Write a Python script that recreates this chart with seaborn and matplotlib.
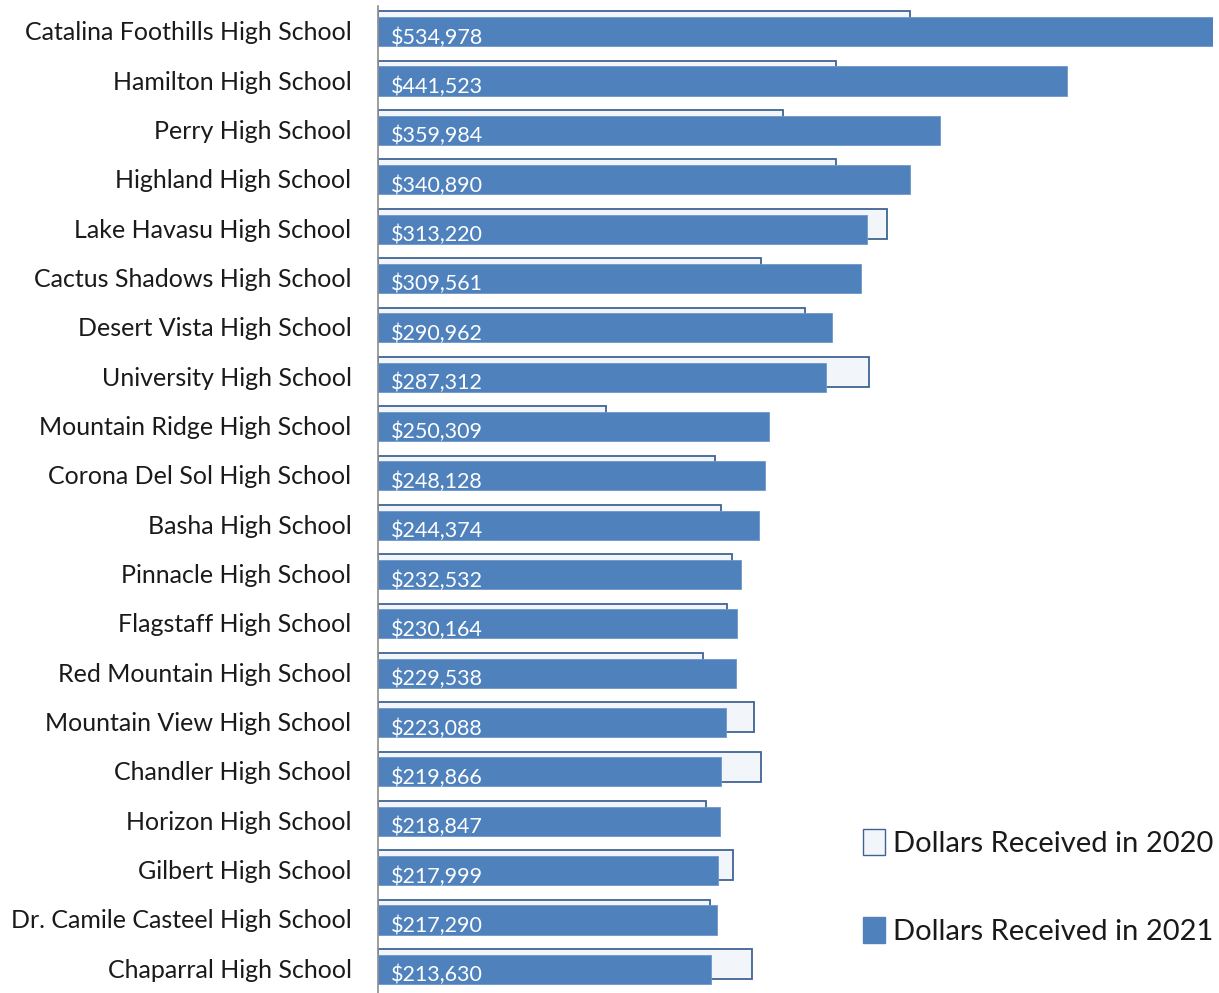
import matplotlib
matplotlib.use('Agg')
import matplotlib.pyplot as plt
import seaborn as sns
import pandas as pd
from matplotlib.patches import Patch

schools = ['Catalina Foothills High School', 'Hamilton High School', 'Perry High School',
           'Highland High School', 'Lake Havasu High School', 'Cactus Shadows High School',
           'Desert Vista High School', 'University High School', 'Mountain Ridge High School',
           'Corona Del Sol High School', 'Basha High School', 'Pinnacle High School',
           'Flagstaff High School', 'Red Mountain High School', 'Mountain View High School',
           'Chandler High School', 'Horizon High School', 'Gilbert High School',
           'Dr. Camile Casteel High School', 'Chaparral High School']
dollars_2021 = [534978, 441523, 359984, 340890, 313220, 309561, 290962, 287312, 250309,
                248128, 244374, 232532, 230164, 229538, 223088, 219866, 218847, 217999,
                217290, 213630]
# 2020 values
dollars_2020 = [340600, 293200, 259800, 293200, 325900, 245700, 273300, 314300, 146300,
                216200, 220000, 227100, 223900, 208500, 240600, 245700, 210400, 227700,
                213000, 239900]

df = pd.DataFrame({'school': schools, 'y2020': dollars_2020, 'y2021': dollars_2021})

sns.set_style('white')
plt.rcParams['font.family'] = ['Lato', 'DejaVu Sans']

blue = '#4F81BD'
light = '#F2F5FA'
edge = '#3F6494'

fig = plt.figure(figsize=(12.19, 9.93), dpi=100)
ax = fig.add_axes([378 / 1219, 0 / 993, (1213 - 378) / 1219, (987 - 0) / 993])

# 2020 bars (light, behind, shifted up a bit)
sns.barplot(data=df, x='y2020', y='school', orient='h', color=light, edgecolor=edge,
            linewidth=1.3, width=0.61, saturation=1, ax=ax)
n = len(schools)
for p in ax.patches[:n]:
    p.set_y(p.get_y() - 0.085)

sns.barplot(data=df, x='y2021', y='school', orient='h', color=blue, edgecolor='#6f97c8',
            linewidth=0.6, width=0.59, saturation=1, ax=ax)
for p in ax.patches[n:]:
    p.set_y(p.get_y() + 0.02)

for i, v in enumerate(dollars_2021):
    ax.text(8000, i + 0.14, f'${v:,}', color='white', fontsize=15.5,
            va='center', ha='left')

ax.set_xlim(0, 535000)
ax.set_ylim(n - 0.5, -0.5)
ax.set_xlabel('')
ax.set_ylabel('')
ax.set_xticks([])
ax.tick_params(axis='y', which='major', length=0, pad=19, labelsize=18, labelcolor='#1a1a1a')
ax.set_yticks([i - 0.5 for i in range(n + 1)], minor=True)
ax.tick_params(axis='y', which='minor', length=6, width=1.2, color='#8c8c8c', direction='out')
for s in ['top', 'right', 'bottom']:
    ax.spines[s].set_visible(False)
ax.spines['left'].set_color('#8c8c8c')
ax.spines['left'].set_linewidth(1.2)

handles = [Patch(facecolor=light, edgecolor=edge, label='Dollars Received in 2020'),
           Patch(facecolor=blue, edgecolor=blue, label='Dollars Received in 2021')]
ax.legend(handles=handles, loc='lower right', bbox_to_anchor=(1.015, 0.037), frameon=False,
          fontsize=21, labelspacing=2.05, handlelength=0.75, handleheight=1.0,
          handletextpad=0.3, borderaxespad=0, labelcolor='#1a1a1a')

fig.savefig('out.png', dpi=100)
